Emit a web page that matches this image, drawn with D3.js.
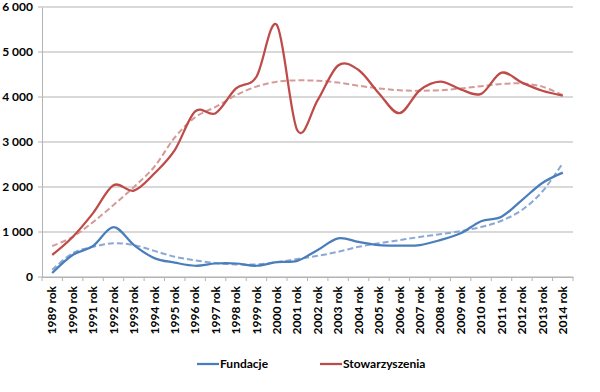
<!DOCTYPE html>
<html>
<head>
<meta charset="utf-8">
<script src="https://cdn.jsdelivr.net/npm/d3@7"></script>
<style>
  body { margin: 0; background: #fff; }
  text { font-family: Lato, "Open Sans", sans-serif; font-weight: bold; fill: #000; }
</style>
</head>
<body>
<div id="chart"></div>
<script>
// categories
var years = ["1989 rok","1990 rok","1991 rok","1992 rok","1993 rok","1994 rok","1995 rok","1996 rok",
  "1997 rok","1998 rok","1999 rok","2000 rok","2001 rok","2002 rok","2003 rok","2004 rok","2005 rok",
  "2006 rok","2007 rok","2008 rok","2009 rok","2010 rok","2011 rok","2012 rok","2013 rok","2014 rok"];

// series values
var fundacje = [90, 490, 690, 1110, 710, 420, 320, 250, 300, 300, 250, 330, 360, 600, 860, 780, 710,
  700, 710, 820, 970, 1240, 1340, 1710, 2090, 2320];
var stowarzyszenia = [490, 890, 1420, 2040, 1920, 2300, 2820, 3680, 3640, 4190, 4450, 5600, 3260, 3930,
  4700, 4600, 4080, 3640, 4150, 4340, 4170, 4070, 4540, 4320, 4140, 4030];

// trend lines
var fundacjeTrend = [160, 530, 670, 750, 710, 580, 450, 370, 310, 280, 280, 330, 400, 470, 560, 670, 750,
  820, 890, 950, 1020, 1110, 1250, 1490, 1900, 2530];
var stowarzyszeniaTrend = [690, 890, 1220, 1600, 2000, 2450, 3100, 3550, 3780, 4040, 4230, 4340, 4370, 4360,
  4320, 4250, 4190, 4150, 4140, 4150, 4190, 4240, 4290, 4300, 4230, 4040];

var yTicks = [0, 1000, 2000, 3000, 4000, 5000, 6000];

var svgWidth = 600, svgHeight = 392;
var margin = { top: 7, right: 27, bottom: 115, left: 42 };
var width = svgWidth - margin.left - margin.right;
var height = svgHeight - margin.top - margin.bottom;

var svg = d3.select("#chart").append("svg")
  .attr("width", svgWidth)
  .attr("height", svgHeight);

var chartGroup = svg.append("g")
  .attr("transform", `translate(${margin.left}, ${margin.top})`);

var xScale = d3.scaleBand().domain(years).range([0, width]);
var yScale = d3.scaleLinear().domain([0, 6000]).range([height, 0]);

var fmt = d => d3.format(",")(d).replace(/,/g, " ");

// gridlines
chartGroup.append("g")
  .selectAll("line")
  .data(yTicks)
  .enter()
  .append("line")
  .attr("x1", -4)
  .attr("x2", width)
  .attr("y1", d => yScale(d))
  .attr("y2", d => yScale(d))
  .attr("stroke", "#b3b3b3")
  .attr("stroke-width", 1);

// y axis
var leftAxis = d3.axisLeft(yScale).tickValues(yTicks).tickFormat(fmt).tickSize(0).tickPadding(9);
var yAxis = chartGroup.append("g").call(leftAxis);
yAxis.select(".domain").attr("stroke", "#b3b3b3");
yAxis.selectAll("text").style("font-size", "12px");

// x axis
var bottomAxis = d3.axisBottom(xScale).tickSize(0);
var xAxis = chartGroup.append("g")
  .attr("transform", `translate(0, ${height})`)
  .call(bottomAxis);
xAxis.select(".domain").attr("stroke", "#b3b3b3");
xAxis.selectAll("text")
  .style("font-size", "12px")
  .attr("transform", "rotate(-90)")
  .attr("text-anchor", "end")
  .attr("x", -9)
  .attr("y", 0)
  .attr("dy", "0.35em");

// tick marks at band boundaries
chartGroup.append("g")
  .selectAll("line")
  .data(d3.range(years.length + 1))
  .enter()
  .append("line")
  .attr("x1", i => i * xScale.step())
  .attr("x2", i => i * xScale.step())
  .attr("y1", height)
  .attr("y2", height + 4)
  .attr("stroke", "#b3b3b3");

var line = d3.line()
  .x((d, i) => xScale(years[i]) + xScale.bandwidth() / 2)
  .y(d => yScale(d))
  .curve(d3.curveCatmullRom.alpha(0));

// trend lines
chartGroup.append("path")
  .datum(fundacjeTrend)
  .attr("d", line)
  .attr("fill", "none")
  .attr("stroke", "#8aa8d6")
  .attr("stroke-width", 2)
  .attr("stroke-dasharray", "6,3");

chartGroup.append("path")
  .datum(stowarzyszeniaTrend)
  .attr("d", line)
  .attr("fill", "none")
  .attr("stroke", "#d49a98")
  .attr("stroke-width", 2)
  .attr("stroke-dasharray", "6,3");

// series
chartGroup.append("path")
  .datum(fundacje)
  .attr("d", line)
  .attr("fill", "none")
  .attr("stroke", "#4a7ebb")
  .attr("stroke-width", 2.25);

chartGroup.append("path")
  .datum(stowarzyszenia)
  .attr("d", line)
  .attr("fill", "none")
  .attr("stroke", "#be4b48")
  .attr("stroke-width", 2.25);

// legend
var legendItems = [
  { name: "Fundacje", color: "#4a7ebb", x: 197 },
  { name: "Stowarzyszenia", color: "#be4b48", x: 320 }
];
var legend = svg.append("g");
legendItems.forEach(function(item) {
  legend.append("line")
    .attr("x1", item.x)
    .attr("x2", item.x + 22)
    .attr("y1", 364)
    .attr("y2", 364)
    .attr("stroke", item.color)
    .attr("stroke-width", 2.25);
  legend.append("text")
    .attr("x", item.x + 23)
    .attr("y", 364)
    .attr("dy", "0.35em")
    .style("font-size", "12px")
    .text(item.name);
});
</script>
</body>
</html>
